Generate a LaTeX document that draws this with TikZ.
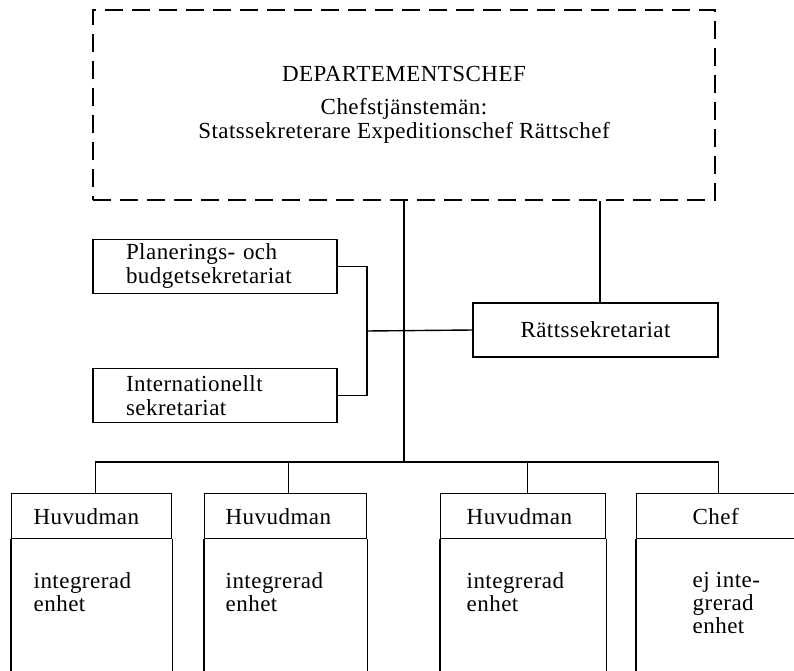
\documentclass[tikz,border=0pt]{standalone}
\usepackage{fontspec}
\setmainfont[LetterSpace=2]{Liberation Serif}
\begin{document}
\begin{tikzpicture}[x=1pt,y=-1pt,line width=1.4pt,
  txt/.style={font=\fontsize{23}{24}\selectfont},
  box/.style={draw,rectangle,inner sep=0pt,txt},
  topbox/.style={box,dash pattern=on 18pt off 9pt,minimum width=622pt,minimum height=190pt,align=center},
  sidebox/.style={box,minimum width=244pt,minimum height=54pt,text width=178pt,align=left},
  headbox/.style={box,minimum height=45pt,anchor=north west,align=left},
  bodybox/.style={rectangle,inner sep=0pt,minimum height=160pt,anchor=north west},
  bodytext/.style={inner sep=0pt,anchor=north west,align=left,font=\fontsize{23}{23}\selectfont}]
\useasboundingbox (0,0) rectangle (794,671);
\clip (0,0) rectangle (794,671);

\node[topbox] (dep) at (404,105) {DEPARTEMENTSCHEF\\[9pt]Chefstjänstemän:\\Statssekreterare Expeditionschef Rättschef};

\node[sidebox] (pl) at (215,266.5) {Planerings- och\\budgetsekretariat};
\node[sidebox] (in) at (215,395.5) {Internationellt\\sekretariat};
\node[box,minimum width=245pt,minimum height=54pt] (rs) at (595.5,330) {Rättssekretariat};

% bottom units: headers
\node[headbox,minimum width=160pt,text width=116pt] (h1) at (11,493) {Huvudman};
\node[headbox,minimum width=162pt,text width=120pt] (h2) at (204,493) {Huvudman};
\node[headbox,minimum width=165pt,text width=113pt] (h3) at (440,493) {Huvudman};
\node[headbox,minimum width=164pt,text width=52pt] (h4) at (636,493) {Chef};

\node[bodybox,minimum width=160pt] (e1) at (h1.south west) {};
\node[bodybox,minimum width=162pt] (e2) at (h2.south west) {};
\node[bodybox,minimum width=165pt] (e3) at (h3.south west) {};
\node[bodybox,minimum width=164pt] (e4) at (h4.south west) {};
\foreach \e in {e1,e2,e3,e4}{
  \draw (\e.north west) -- (\e.south west);
  \draw (\e.north east) -- (\e.south east);
}

\node[bodytext] (t1) at ([shift={(22,32)}]e1.north west) {integrerad\\enhet};
\node[bodytext] (t2) at ([shift={(21,32)}]e2.north west) {integrerad\\enhet};
\node[bodytext] (t3) at ([shift={(26,32)}]e3.north west) {integrerad\\enhet};
\node[bodytext] (t4) at ([shift={(56,32)}]e4.north west) {ej inte-\\grerad\\enhet};

% connectors
\coordinate (bus) at (404,462);
\coordinate (jx) at (367,331);
\draw (dep.south) -- (bus);
\draw ([xshift=4.5pt]rs.north) -- ([xshift=4.5pt]rs.north |- dep.south);
\draw (pl.east) -| (jx) |- (in.east);
\draw (jx) -- (rs.west);
\draw ([xshift=4pt]h1.north) |- (bus) -| (h4.north);
\draw ([xshift=3pt]h2.north) -- ([xshift=3pt]h2.north |- bus);
\draw ([xshift=4.5pt]h3.north) -- ([xshift=4.5pt]h3.north |- bus);
\end{tikzpicture}
\end{document}
